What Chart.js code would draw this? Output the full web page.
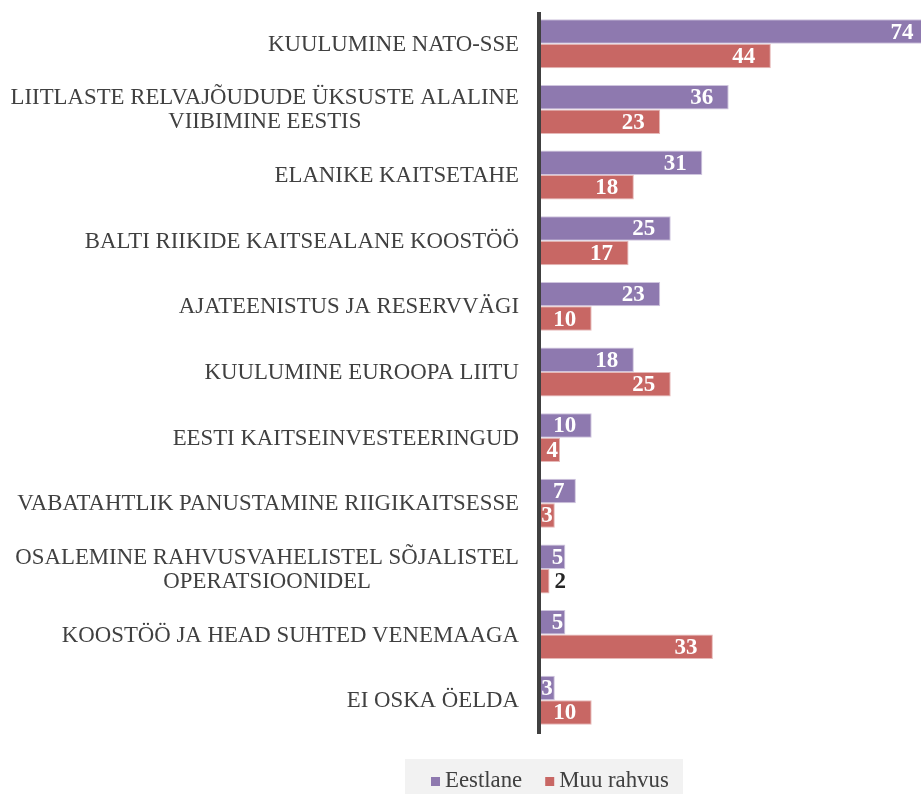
<!DOCTYPE html>
<html>
<head>
<meta charset="utf-8">
<script src="https://cdn.jsdelivr.net/npm/chart.js@4"></script>
<style>
html,body{margin:0;padding:0;background:#fff;overflow:hidden;}
#wrap{position:relative;width:921px;height:794px;}
</style>
</head>
<body>
<div id="wrap"><canvas id="c" width="921" height="794"></canvas></div>
<script>
const categories = [
  ["KUULUMINE NATO-SSE"],
  ["LIITLASTE RELVAJÕUDUDE ÜKSUSTE ALALINE", "VIIBIMINE EESTIS"],
  ["ELANIKE KAITSETAHE"],
  ["BALTI RIIKIDE KAITSEALANE KOOSTÖÖ"],
  ["AJATEENISTUS JA RESERVVÄGI"],
  ["KUULUMINE EUROOPA LIITU"],
  ["EESTI KAITSEINVESTEERINGUD"],
  ["VABATAHTLIK PANUSTAMINE RIIGIKAITSESSE"],
  ["OSALEMINE RAHVUSVAHELISTEL SÕJALISTEL", "OPERATSIOONIDEL"],
  ["KOOSTÖÖ JA HEAD SUHTED VENEMAAGA"],
  ["EI OSKA ÖELDA"]
];
const seriesNames = ["Eestlane", "Muu rahvus"];
const eestlane = [74, 36, 31, 25, 23, 18, 10, 7, 5, 5, 3];
const muuRahvus = [44, 23, 18, 17, 10, 25, 4, 3, 2, 33, 10];

const COLORS = ["#8E79AF", "#C86764"];
const BORDERS = ["#CFC5DE", "#E6B9B8"];
const TEXT = "#404040";
const SERIF = '"Liberation Serif", "Times New Roman", serif';

const drawPlugin = {
  id: 'custom',
  afterDatasetsDraw(chart) {
    const ctx = chart.ctx;
    const ys = chart.scales.y;
    const area = chart.chartArea;
    ctx.save();
    // value labels
    ctx.font = 'bold 23px ' + SERIF;
    ctx.textBaseline = 'middle';
    ctx.textAlign = 'left';
    chart.data.datasets.forEach((ds, di) => {
      const meta = chart.getDatasetMeta(di);
      meta.data.forEach((bar, i) => {
        const v = ds.data[i];
        const txt = String(v);
        const w = ctx.measureText(txt).width;
        const end = bar.x;
        let left;
        if (v <= 2) {
          ctx.fillStyle = '#262626';
          left = end + 5;
        } else {
          ctx.fillStyle = '#FFFFFF';
          left = Math.max(end - 15.5 - w, Math.min(area.left + 14, end - w - 2));
        }
        ctx.save();
        if (v > 2) {
          ctx.beginPath();
          ctx.rect(area.left, bar.y - 20, Math.max(0, Math.min(end, area.right) - area.left), 40);
          ctx.clip();
        }
        ctx.fillText(txt, left, bar.y + 1);
        ctx.restore();
      });
    });
    // axis line
    ctx.fillStyle = '#404040';
    ctx.fillRect(area.left - 2, area.top + 1, 4, area.bottom - area.top);
    // category labels
    ctx.font = '22.8px ' + SERIF;
    ctx.fillStyle = TEXT;
    ctx.textAlign = 'center';
    ctx.textBaseline = 'middle';
    const rightEdge = area.left - 20;
    const lh = 24;
    chart.data.labels.forEach((lines, i) => {
      const cy = ys.getPixelForValue(i);
      let maxW = 0;
      lines.forEach(l => { maxW = Math.max(maxW, ctx.measureText(l).width); });
      const cx = rightEdge - maxW / 2;
      lines.forEach((l, j) => {
        ctx.fillText(l, cx, cy + (j - (lines.length - 1) / 2) * lh + 1);
      });
    });
    // legend
    ctx.fillStyle = '#F2F2F2';
    ctx.fillRect(405, 759, 278, 40);
    ctx.textAlign = 'left';
    ctx.textBaseline = 'alphabetic';
    let x = 431;
    seriesNames.forEach((name, di) => {
      ctx.fillStyle = COLORS[di];
      ctx.fillRect(x, 777, 9, 9);
      ctx.fillStyle = TEXT;
      ctx.font = '22.8px ' + SERIF;
      ctx.fillText(name, x + 14, 787);
      x += 14 + ctx.measureText(name).width + 23;
    });
    ctx.restore();
  }
};

new Chart(document.getElementById('c'), {
  type: 'bar',
  data: {
    labels: categories,
    datasets: [
      { label: seriesNames[0], data: eestlane, backgroundColor: COLORS[0], borderColor: BORDERS[0], borderWidth: 1, barPercentage: 1, categoryPercentage: 0.746 },
      { label: seriesNames[1], data: muuRahvus, backgroundColor: COLORS[1], borderColor: BORDERS[1], borderWidth: 1, barPercentage: 1, categoryPercentage: 0.746 }
    ]
  },
  options: {
    indexAxis: 'y',
    responsive: false,
    devicePixelRatio: 1,
    animation: false,
    layout: { padding: { left: 539, right: 0, top: 11, bottom: 61 } },
    scales: {
      x: { display: false, min: 0, max: 72.5 },
      y: { display: false }
    },
    plugins: { legend: { display: false }, tooltip: { enabled: false } }
  },
  plugins: [drawPlugin]
});
</script>
</body>
</html>
